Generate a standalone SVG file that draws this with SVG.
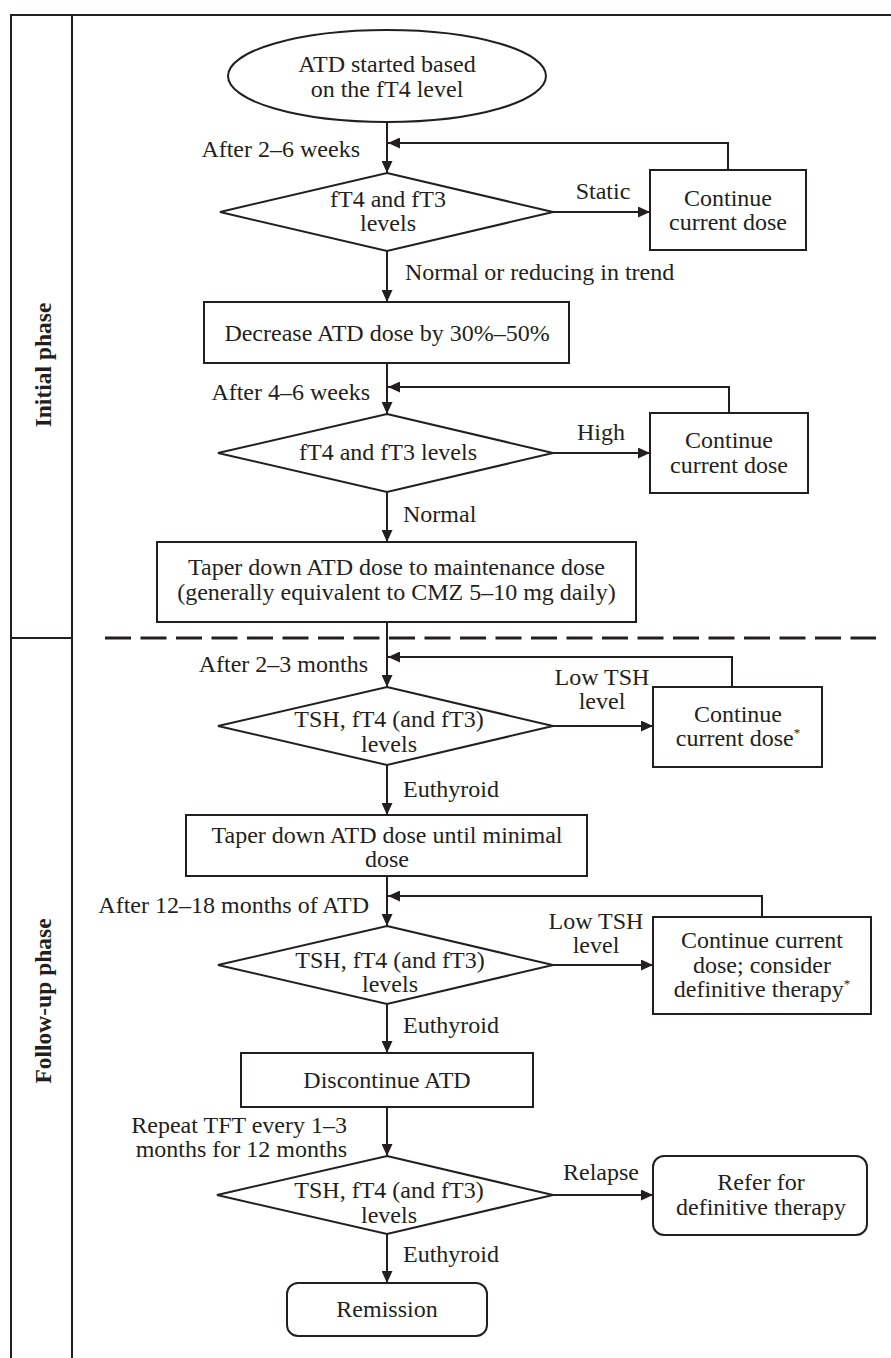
<svg xmlns="http://www.w3.org/2000/svg" width="891" height="1358" viewBox="0 0 891 1358">
<style>
.s{fill:#fff;stroke:#231f20;stroke-width:2}
.t{font-family:"Liberation Serif","Times New Roman",serif;font-size:24px;fill:#231f20;text-anchor:middle}
.l{font-family:"Liberation Serif","Times New Roman",serif;font-size:24px;fill:#231f20}
.e{text-anchor:end}
.lane{font-family:"Liberation Serif","Times New Roman",serif;font-size:23.5px;font-weight:bold;fill:#231f20;text-anchor:middle}
.c{fill:none;stroke:#231f20;stroke-width:2}
.fr{fill:none;stroke:#231f20;stroke-width:2}
</style>
<defs>
<marker id="ah" viewBox="0 0 12 11" refX="12" refY="5.5" markerWidth="12" markerHeight="11" orient="auto" markerUnits="userSpaceOnUse"><path d="M0,0 L12,5.5 L0,11 z" fill="#231f20"/></marker>
</defs>
<rect width="891" height="1358" fill="#fff"/>
<g id="frame">
<path class="fr" d="M11,1358 V15 H891"/>
<path class="fr" d="M72,15 V1358"/>
<path class="fr" d="M11,638 H72"/>
<path d="M105,638 H876" fill="none" stroke="#231f20" stroke-width="3" stroke-dasharray="26 9.5"/>
<text class="lane" transform="translate(51,365) rotate(-90)">Initial phase</text>
<text class="lane" transform="translate(51,1001) rotate(-90)">Follow-up phase</text>
</g>
<g id="connectors">
<path class="c" marker-end="url(#ah)" d="M387,122 V173"/>
<path class="c" marker-end="url(#ah)" d="M728,170 V143 H388"/>
<path class="c" marker-end="url(#ah)" d="M553,212 H650"/>
<path class="c" marker-end="url(#ah)" d="M387,251 V302"/>
<path class="c" marker-end="url(#ah)" d="M387,363 V414"/>
<path class="c" marker-end="url(#ah)" d="M729,413 V387 H388"/>
<path class="c" marker-end="url(#ah)" d="M553,453 H650"/>
<path class="c" marker-end="url(#ah)" d="M387,492 V542"/>
<path class="c" marker-end="url(#ah)" d="M387,622 V687"/>
<path class="c" marker-end="url(#ah)" d="M732,687 V657 H388"/>
<path class="c" marker-end="url(#ah)" d="M553,726 H653"/>
<path class="c" marker-end="url(#ah)" d="M387,765 V815"/>
<path class="c" marker-end="url(#ah)" d="M387,876 V926"/>
<path class="c" marker-end="url(#ah)" d="M762,917 V896 H388"/>
<path class="c" marker-end="url(#ah)" d="M553,965 H653"/>
<path class="c" marker-end="url(#ah)" d="M387,1004 V1053"/>
<path class="c" marker-end="url(#ah)" d="M387,1107 V1156"/>
<path class="c" marker-end="url(#ah)" d="M553,1195 H653"/>
<path class="c" marker-end="url(#ah)" d="M387,1234 V1283"/>
<text class="l e" x="360" y="157">After 2–6 weeks</text>
<text class="t" x="603" y="199">Static</text>
<text class="l" x="405" y="280">Normal or reducing in trend</text>
<text class="l e" x="370" y="400">After 4–6 weeks</text>
<text class="t" x="601" y="440">High</text>
<text class="l" x="403" y="522">Normal</text>
<text class="l e" x="368" y="672">After 2–3 months</text>
<text class="t" x="602" y="685">Low TSH</text>
<text class="t" x="602" y="709">level</text>
<text class="l" x="403" y="797">Euthyroid</text>
<text class="l e" x="369" y="913">After 12–18 months of ATD</text>
<text class="t" x="596" y="929">Low TSH</text>
<text class="t" x="596" y="953">level</text>
<text class="l" x="403" y="1033">Euthyroid</text>
<text class="l e" x="347" y="1133">Repeat TFT every 1–3</text>
<text class="l e" x="347" y="1157">months for 12 months</text>
<text class="t" x="601" y="1180">Relapse</text>
<text class="l" x="403" y="1262">Euthyroid</text>
</g>
<g id="start">
<ellipse class="s" cx="387" cy="76" rx="159" ry="46"/>
<text class="t" x="387" y="72">ATD started based</text>
<text class="t" x="387" y="97">on the fT4 level</text>
</g>
<g id="d1">
<polygon class="s" points="387,173 553,212 387,251 220,212"/>
<text class="t" x="388" y="207">fT4 and fT3</text>
<text class="t" x="388" y="231">levels</text>
</g>
<g id="b1">
<rect class="s" x="650" y="170" width="156" height="80"/>
<text class="t" x="728" y="206">Continue</text>
<text class="t" x="728" y="230">current dose</text>
</g>
<g id="b2">
<rect class="s" x="204" y="302" width="365" height="61"/>
<text class="t" x="387" y="341">Decrease ATD dose by 30%–50%</text>
</g>
<g id="d2">
<polygon class="s" points="387,414 553,453 387,492 218,453"/>
<text class="t" x="388" y="460">fT4 and fT3 levels</text>
</g>
<g id="b3">
<rect class="s" x="650" y="413" width="158" height="80"/>
<text class="t" x="729" y="448">Continue</text>
<text class="t" x="729" y="473">current dose</text>
</g>
<g id="b4">
<rect class="s" x="157" y="542" width="479" height="80"/>
<text class="t" x="396.5" y="575">Taper down ATD dose to maintenance dose</text>
<text class="t" x="396.5" y="600">(generally equivalent to CMZ 5–10 mg daily)</text>
</g>
<g id="d3">
<polygon class="s" points="387,687 553,726 387,765 218,726"/>
<text class="t" x="389" y="727">TSH, fT4 (and fT3)</text>
<text class="t" x="389" y="752">levels</text>
</g>
<g id="b5">
<rect class="s" x="653" y="687" width="169" height="80"/>
<text class="t" x="738" y="722">Continue</text>
<text class="t" x="738" y="746">current dose<tspan font-size="13" dy="-9">*</tspan></text>
</g>
<g id="b6">
<rect class="s" x="186" y="815" width="401" height="61"/>
<text class="t" x="387" y="843">Taper down ATD dose until minimal</text>
<text class="t" x="387" y="867">dose</text>
</g>
<g id="d4">
<polygon class="s" points="387,926 553,965 387,1004 218,965"/>
<text class="t" x="390" y="968">TSH, fT4 (and fT3)</text>
<text class="t" x="390" y="992">levels</text>
</g>
<g id="b7">
<rect class="s" x="653" y="917" width="218" height="97"/>
<text class="t" x="762" y="948">Continue current</text>
<text class="t" x="762" y="973">dose; consider</text>
<text class="t" x="762" y="997">definitive therapy<tspan font-size="13" dy="-9">*</tspan></text>
</g>
<g id="b8">
<rect class="s" x="241" y="1053" width="292" height="54"/>
<text class="t" x="387" y="1088">Discontinue ATD</text>
</g>
<g id="d5">
<polygon class="s" points="387,1156 553,1195 387,1234 217,1195"/>
<text class="t" x="389" y="1198">TSH, fT4 (and fT3)</text>
<text class="t" x="389" y="1223">levels</text>
</g>
<g id="b9">
<rect class="s" x="653" y="1156" width="214" height="79" rx="11"/>
<text class="t" x="761" y="1190">Refer for</text>
<text class="t" x="761" y="1215">definitive therapy</text>
</g>
<g id="b10">
<rect class="s" x="287" y="1283" width="200" height="53" rx="11"/>
<text class="t" x="387" y="1317">Remission</text>
</g>
</svg>
